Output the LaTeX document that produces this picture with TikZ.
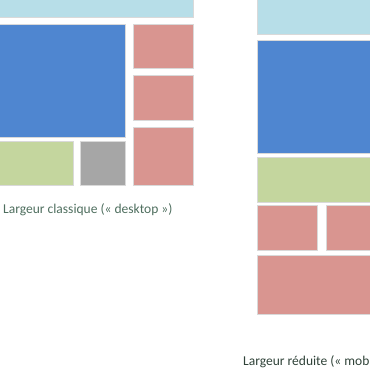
\documentclass[tikz,border=0pt]{standalone}
\usepackage{fontspec}
\setmainfont{Carlito}
\definecolor{bandeau}{HTML}{B7DEE8}
\definecolor{contenu}{HTML}{4F86D0}
\definecolor{lateral}{HTML}{D99590}
\definecolor{pied}{HTML}{C4D69E}
\definecolor{divers}{HTML}{A6A6A6}
\definecolor{legende}{HTML}{4E6E5E}
\tikzset{
    bloc/.style={draw=white!85!black, line width=0.6pt}, % contour clair des blocs
    titre/.style={anchor=west, inner sep=0pt, font=\fontsize{13.5}{16}\selectfont}
}
\begin{document}
\begin{tikzpicture}[x=1pt, y=-1pt]
            \useasboundingbox (0,0) rectangle (370,370);
            \clip (0,0) rectangle (370,370);

            % largeur classique
            \filldraw[bloc, fill=bandeau] (-5,-5) rectangle (193,17);
            \filldraw[bloc, fill=contenu] (-5,24) rectangle (125,137);
            \filldraw[bloc, fill=lateral] (133,24) rectangle (193,68);
            \filldraw[bloc, fill=lateral] (133,75) rectangle (193,120);
            \filldraw[bloc, fill=lateral] (133,127) rectangle (193,185);
            \filldraw[bloc, fill=pied] (-5,141) rectangle (73,185);
            \filldraw[bloc, fill=divers] (80,141) rectangle (125,185);
            \node[titre, text=legende] (classique) at (3,210) {Largeur classique (« desktop »)};

            % largeur reduite
            \filldraw[bloc, fill=bandeau] (257,-5) rectangle (380,34);
            \filldraw[bloc, fill=contenu] (257,40) rectangle (380,153);
            \filldraw[bloc, fill=pied] (257,157) rectangle (380,202);
            \filldraw[bloc, fill=lateral] (257,205) rectangle (317,250);
            \filldraw[bloc, fill=lateral] (326,205) rectangle (380,250);
            \filldraw[bloc, fill=lateral] (257,255) rectangle (380,314);
            \node[titre, text=legende!60!black] (reduite) at (243,362) {Largeur réduite (« mobile »)};
        \end{tikzpicture}
\end{document}
